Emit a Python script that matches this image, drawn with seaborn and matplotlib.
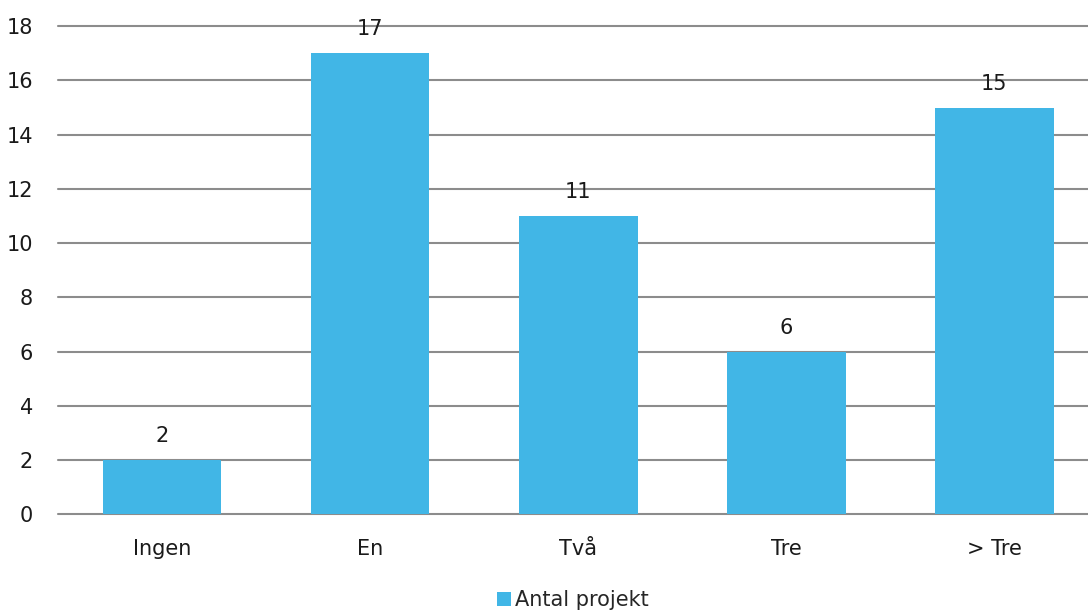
import matplotlib
matplotlib.use("Agg")
import matplotlib.pyplot as plt
import seaborn as sns
import pandas as pd

categories = ["Ingen", "En", "Två", "Tre", "> Tre"]
values = [2, 17, 11, 6, 15]
series_name = "Antal projekt"
yticks = [0, 2, 4, 6, 8, 10, 12, 14, 16, 18]

sns.set_style("white")
plt.rcParams['font.family'] = ['DejaVu Sans']

df = pd.DataFrame({"kategori": categories, "antal": values, "serie": series_name})

fig = plt.figure(figsize=(10.88, 6.1), dpi=100)
ax = fig.add_axes([0.0533, 0.157, 0.9467, 0.8])

sns.barplot(data=df, x="kategori", y="antal", hue="serie", palette=["#41B6E6"],
            width=0.57, saturation=1, linewidth=0, ax=ax, zorder=3)

for c in ax.containers:
    ax.bar_label(c, labels=[str(v) for v in values], padding=10, fontsize=15, color="#1a1a1a")

ax.set_ylim(0, 18)
ax.set_xlim(-0.5, 4.45)
ax.set_yticks(yticks)
ax.yaxis.grid(True, color="#8c8c8c", linewidth=1.5, zorder=0)
for gl in ax.get_ygridlines():
    gl.set_clip_on(False)
ax.set_axisbelow(True)
for s in ax.spines.values():
    s.set_visible(False)
ax.set_xlabel("")
ax.set_ylabel("")
ax.tick_params(axis="both", length=0, labelsize=15, colors="#1a1a1a")
ax.tick_params(axis="x", pad=18)
ax.tick_params(axis="y", pad=18)

ax.legend(loc="lower center", bbox_to_anchor=(0.5, -0.235), frameon=False,
          fontsize=15, handlelength=0.7, handleheight=0.7, handletextpad=0.2)

fig.savefig("out.png", dpi=100)
